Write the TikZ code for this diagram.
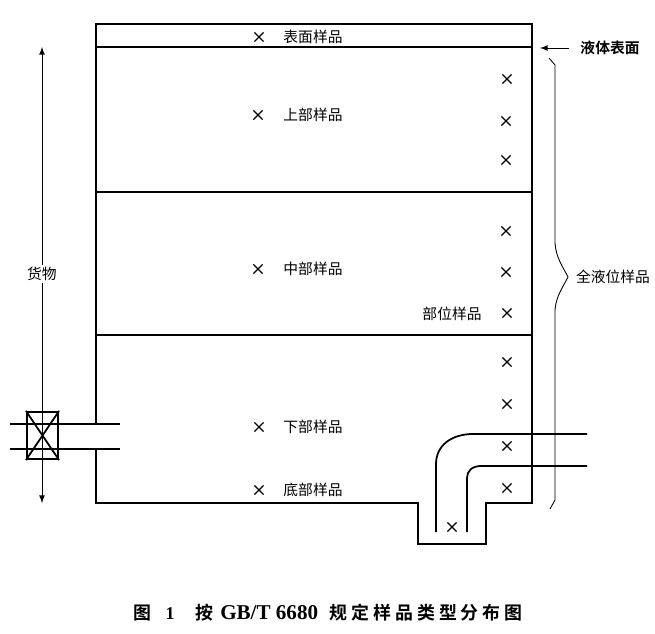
\documentclass[tikz,border=0pt]{standalone}
\usepackage{fontspec}
\setmainfont{Liberation Serif}
\newfontfamily\cjk{Noto Sans CJK SC}
\newfontfamily\cjkbold{Noto Sans CJK SC Bold}
\newfontfamily\cjktitle[LetterSpace=22]{Noto Sans CJK SC Bold}
\usetikzlibrary{shapes.misc}

\tikzset{
  wall/.style={line width=1.1pt},
  pipe/.style={line width=1pt},
  xmark/.style={cross out,draw,line width=0.65pt,minimum size=0.16cm,inner sep=0pt},
  lbl/.style={font=\cjk\fontsize{8.4}{10}\selectfont,inner sep=1pt},
}

\begin{document}
\begin{tikzpicture}[x=0.02cm,y=-0.02cm]
  \useasboundingbox (0,0) rectangle (655,634);

  % tank
  \draw[wall] (96,424) -- (96,24) -- (532,24) -- (532,503) -- (486,503) -- (486,544) -- (418,544) -- (418,503) -- (96,503) -- (96,449);
  \draw[wall] (96,47) -- (532,47);
  \draw[wall] (96,192) -- (532,192);
  \draw[wall] (96,335) -- (532,335);

  % pipes
  \draw[pipe] (10,424) -- (120,424);
  \draw[pipe] (10,449) -- (120,449);
  \draw[pipe] (436,532) -- (436,464) .. controls (436,445) and (452,434) .. (473,434) -- (587,434);
  \draw[pipe] (467,532) -- (467,478) .. controls (467,471) and (472,466) .. (481,466) -- (587,466);

  % valve
  \node[draw,line width=1.2pt,minimum width=0.62cm,minimum height=0.94cm,inner sep=0pt] (valve) at (42.5,435.5) {};
  \draw[line width=1pt] (valve.north west) -- (valve.south east);
  \draw[line width=1pt] (valve.north east) -- (valve.south west);

  % cargo
  \node[lbl,fill=white] (cargo) at (42,274) {货物};
  \coordinate (cargotop) at (42,47);
  \coordinate (cargobot) at (42,503);
  \draw[-latex,line width=0.5pt] (cargo) -- (cargotop);
  \draw[-latex,line width=0.5pt] (cargo) -- (cargobot);

  % sample points
  \foreach \name/\x/\y in {s1/259/37,u1/258/115,m1/258/269,l1/259/427,b1/259/490,
      r1/507/79,r2/506/121,r3/506/160,r4/506/231,r5/506/272,r6/507/313,r7/507/362,r8/507/404,r9/507/446,r10/507/488,p1/452/527} {
    \node[xmark] (\name) at (\x,\y) {};
  }

  \node[lbl] (surf) at (313,37) {表面样品};
  \node[lbl] (upper) at (313,115) {上部样品};
  \node[lbl] (middle) at (313,269) {中部样品};
  \node[lbl] (lower) at (313,427) {下部样品};
  \node[lbl] (bottom) at (313,490) {底部样品};
  \node[lbl] (spot) at (452,314) {部位样品};
  \node[lbl] (all) at (613,277) {全液位样品};

  % liquid surface
  \node[lbl,font=\cjkbold\fontsize{8.4}{10}\selectfont] (level) at (610,48) {液体表面};
  \coordinate (levelend) at (540,48);
  \draw[-latex,line width=0.5pt] (569,48) -- (levelend);

  % brace
  \coordinate (bracetop) at (549,58);
  \coordinate (bracebot) at (550,509);
  \draw[line width=0.5pt] (bracetop) -- (555,65) -- (555,243) .. controls (556,258) and (563,267) .. (568,277) .. controls (563,287) and (556,296) .. (555,310) -- (555,500) -- (bracebot);

  % caption
  \node[font=\cjktitle\fontsize{10.2}{12}\selectfont,inner sep=0pt,anchor=west] (caption) at (133,613) {图\hspace{0.8em}{\rmfamily\bfseries 1}\hspace{1.15em}按\hspace{0.4em}{\rmfamily\bfseries\fontsize{12}{12}\selectfont GB/T 6680}\hspace{0.65em}规定样品类型分布图};
\end{tikzpicture}
\end{document}
